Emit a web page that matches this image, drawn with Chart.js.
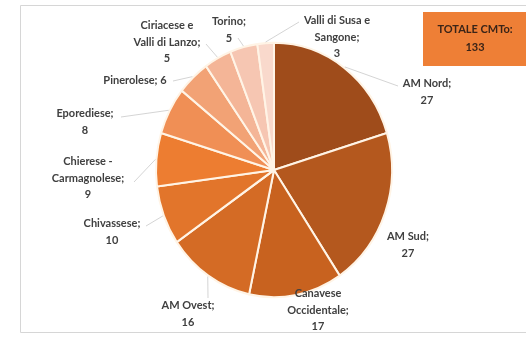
<!DOCTYPE html>
<html>
<head>
<meta charset="utf-8">
<script src="https://cdn.jsdelivr.net/npm/chart.js@4"></script>
<style>
  html, body { margin: 0; padding: 0; background: #ffffff; }
  #wrap { width: 526px; height: 338px; position: relative; }
</style>
</head>
<body>
<div id="wrap"><canvas id="chart_cmto" width="526" height="338"></canvas></div>
<script>
// values, clockwise from 12 o'clock
const categories = ['AM Nord', 'AM Sud', 'Canavese Occidentale', 'AM Ovest', 'Chivassese',
    'Chierese - Carmagnolese', 'Eporediese', 'Pinerolese', 'Ciriacese e Valli di Lanzo',
    'Torino', 'Valli di Susa e Sangone'];
const values = [27, 27, 17, 16, 10, 9, 8, 6, 5, 5, 3];
// how each category name is broken over lines in the data labels
const nameLines = [['AM Nord;'], ['AM Sud;'], ['Canavese', 'Occidentale;'], ['AM Ovest;'],
    ['Chivassese;'], ['Chierese -', 'Carmagnolese;'], ['Eporediese;'], ['Pinerolese;'],
    ['Ciriacese e', 'Valli di Lanzo;'], ['Torino;'], ['Valli di Susa e', 'Sangone;']];
const totalLabel = 'TOTALE CMTo:';

const sliceColors = ['#9f4c1b', '#b4581e', '#c8621f', '#d46b25', '#e2752b', '#ed7d31',
    '#f08f55', '#f2a275', '#f4b597', '#f6c6b2', '#f9d9cc'];

// label layout: text centre and leader-line end, offsets from pie centre
const labelLayout = [
    { c: [153, -78], a: [124, -84] },
    { c: [134, 75], a: null },
    { c: [44, 140], a: null },
    { c: [-86, 144], a: [-66, 128] },
    { c: [-162, 62], a: [-128, 56] },
    { c: [-186, 8], a: [-140, 12] },
    { c: [-189, -48], a: [-153, -53] },
    { c: [-139, -90], a: [-101, -89], inline: true },
    { c: [-107, -128], a: [-68, -126] },
    { c: [-45, -140], a: [-36, -132] },
    { c: [63, -133], a: [25, -148] }
];
const yStretch = 1.078;
const labelFont = 'bold 11px Lato';
const lineH = 16.5;

const decorations = {
    id: 'decorations',
    beforeDraw(chart) {
        const ctx = chart.ctx;
        ctx.save();
        ctx.strokeStyle = '#d6d6d6';
        ctx.lineWidth = 1;
        ctx.beginPath();
        ctx.moveTo(530, 5.5);
        ctx.lineTo(20.5, 5.5);
        ctx.lineTo(20.5, 332.5);
        ctx.lineTo(530, 332.5);
        ctx.stroke();
        ctx.restore();
    },
    beforeDatasetsDraw(chart) {
        const arc = chart.getDatasetMeta(0).data[0];
        const ctx = chart.ctx;
        ctx.save();
        ctx.translate(arc.x, arc.y);
        ctx.scale(1, yStretch);
        ctx.translate(-arc.x, -arc.y);
    },
    afterDatasetsDraw(chart) {
        chart.ctx.restore();
    },
    afterDraw(chart) {
        const ctx = chart.ctx;
        const arcs = chart.getDatasetMeta(0).data;
        ctx.save();
        // leader lines
        ctx.strokeStyle = '#c9c9c9';
        ctx.lineWidth = 0.8;
        arcs.forEach((arc, i) => {
            const lay = labelLayout[i];
            if (!lay.a) return;
            const mid = (arc.startAngle + arc.endAngle) / 2;
            const ex = arc.x + Math.cos(mid) * (arc.outerRadius + 1);
            const ey = arc.y + Math.sin(mid) * (arc.outerRadius + 1) * yStretch;
            ctx.beginPath();
            ctx.moveTo(ex, ey);
            ctx.lineTo(arc.x + lay.a[0], arc.y + lay.a[1]);
            ctx.stroke();
        });
        // data labels
        ctx.fillStyle = '#404040';
        ctx.font = labelFont;
        ctx.textAlign = 'center';
        ctx.textBaseline = 'middle';
        arcs.forEach((arc, i) => {
            const lay = labelLayout[i];
            let lines = nameLines[i].slice();
            if (lay.inline) {
                lines[lines.length - 1] += ' ' + values[i];
            } else {
                lines.push(String(values[i]));
            }
            const top = arc.y + lay.c[1] - (lines.length - 1) * lineH / 2;
            lines.forEach((t, k) => ctx.fillText(t, arc.x + lay.c[0], top + k * lineH));
        });
        // total box
        const total = values.reduce((s, v) => s + v, 0);
        ctx.fillStyle = '#ee7f36';
        ctx.fillRect(423, 12, 110, 54);
        ctx.fillStyle = '#3a2418';
        ctx.font = labelFont;
        ctx.fillText(totalLabel, 475, 29);
        ctx.fillText(String(total), 475, 47);
        ctx.restore();
    }
};

const ctx = document.getElementById('chart_cmto').getContext('2d');
const chart = new Chart(ctx, {
    type: 'pie',
    data: {
        labels: categories,
        datasets: [{
            data: values,
            backgroundColor: sliceColors,
            borderColor: '#fff4e6',
            borderWidth: 2,
            hoverOffset: 0
        }]
    },
    options: {
        responsive: false,
        animation: false,
        layout: { padding: { left: 120, right: 98, top: 51, bottom: 49 } },
        plugins: {
            legend: { display: false },
            tooltip: { enabled: false }
        }
    },
    plugins: [decorations]
});
</script>
</body>
</html>
